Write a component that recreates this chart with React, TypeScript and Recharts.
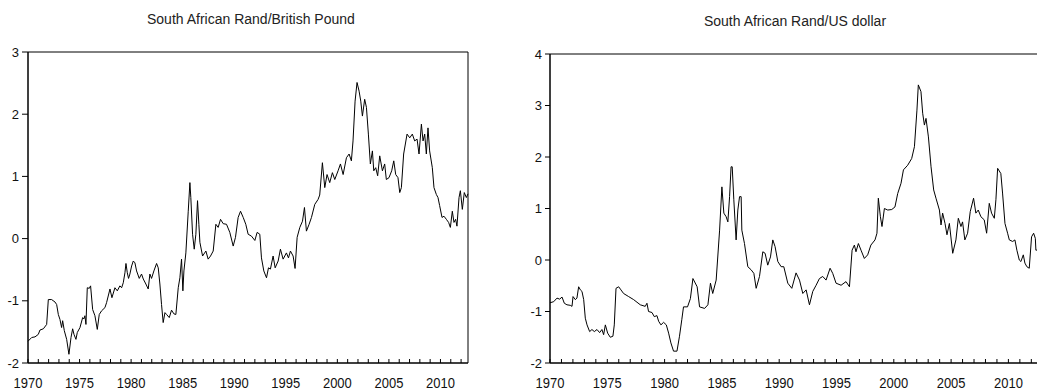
import React from 'react';
import { LineChart, Line, XAxis, YAxis, ReferenceArea } from 'recharts';

// Rand / British Pound (decimal year, value)
const gbpYears = [
  1970.0, 1970.36, 1970.68, 1971.0, 1971.16, 1971.49, 1971.81, 1971.97, 1972.29, 1972.62,
  1972.78, 1972.94, 1973.1, 1973.26, 1973.36, 1973.52, 1973.75, 1973.97, 1974.17, 1974.33,
  1974.46, 1974.65, 1974.78, 1975.04, 1975.3, 1975.43, 1975.52, 1975.62, 1975.75, 1975.94,
  1976.07, 1976.27, 1976.49, 1976.72, 1976.91, 1977.14, 1977.46, 1977.62, 1977.95, 1978.14,
  1978.43, 1978.66, 1978.91, 1979.08, 1979.24, 1979.4, 1979.5, 1979.63, 1979.75, 1979.88,
  1980.05, 1980.21, 1980.37, 1980.53, 1980.79, 1981.01, 1981.18, 1981.43, 1981.66, 1981.82,
  1981.98, 1982.21, 1982.47, 1982.63, 1982.79, 1982.95, 1983.11, 1983.28, 1983.44, 1983.7,
  1983.92, 1984.15, 1984.34, 1984.57, 1984.73, 1984.89, 1985.02, 1985.12, 1985.31, 1985.54,
  1985.7, 1985.79, 1985.96, 1986.12, 1986.28, 1986.44, 1986.57, 1986.67, 1986.93, 1987.25,
  1987.47, 1987.7, 1987.96, 1988.22, 1988.44, 1988.67, 1988.93, 1989.25, 1989.57, 1989.9,
  1990.12, 1990.38, 1990.61, 1990.87, 1991.12, 1991.35, 1991.67, 1992.0, 1992.22, 1992.48,
  1992.64, 1992.87, 1993.13, 1993.32, 1993.51, 1993.77, 1993.97, 1994.26, 1994.48, 1994.74,
  1995.06, 1995.26, 1995.45, 1995.71, 1995.9, 1996.1, 1996.36, 1996.62, 1996.81, 1997.0,
  1997.26, 1997.49, 1997.81, 1998.13, 1998.29, 1998.55, 1998.78, 1999.0, 1999.26, 1999.52,
  1999.75, 2000.07, 2000.3, 2000.56, 2000.88, 2001.14, 2001.36, 2001.52, 2001.72, 2001.91,
  2002.11, 2002.27, 2002.43, 2002.65, 2002.82, 2003.01, 2003.2, 2003.4, 2003.53, 2003.72,
  2003.91, 2004.11, 2004.37, 2004.59, 2004.75, 2005.01, 2005.27, 2005.47, 2005.66, 2005.88,
  2006.05, 2006.21, 2006.43, 2006.76, 2007.02, 2007.27, 2007.5, 2007.73, 2007.92, 2008.15,
  2008.31, 2008.47, 2008.63, 2008.79, 2008.95, 2009.21, 2009.37, 2009.6, 2009.76, 2009.92,
  2010.15, 2010.34, 2010.57, 2010.79, 2010.96, 2011.15, 2011.31, 2011.47, 2011.6, 2011.8,
  2011.93, 2012.12, 2012.31, 2012.51, 2012.67,
];
const gbpValues = [
  -1.65, -1.59, -1.58, -1.54, -1.47, -1.45, -1.38, -0.98, -0.98, -1.02,
  -1.06, -1.22, -1.3, -1.43, -1.32, -1.48, -1.62, -1.86, -1.59, -1.45,
  -1.54, -1.62, -1.51, -1.43, -1.27, -1.29, -1.24, -1.38, -0.79, -0.8,
  -0.76, -1.14, -1.24, -1.46, -1.22, -1.16, -1.11, -1.03, -0.81, -0.95,
  -0.79, -0.84, -0.76, -0.79, -0.71, -0.55, -0.4, -0.55, -0.64, -0.57,
  -0.44, -0.36, -0.39, -0.52, -0.64, -0.57, -0.65, -0.73, -0.81, -0.57,
  -0.64, -0.52, -0.4, -0.47, -0.73, -1.06, -1.35, -1.19, -1.22, -1.27,
  -1.15, -1.21, -1.22, -0.79, -0.63, -0.33, -0.84, -0.52, -0.23, 0.44,
  0.9, 0.66, 0.07, -0.17, 0.07, 0.61, 0.23, -0.06, -0.28, -0.2,
  -0.33, -0.28, -0.2, 0.23, 0.18, 0.31, 0.24, 0.23, 0.1, -0.12,
  0.02, 0.34, 0.44, 0.34, 0.23, 0.07, 0.04, -0.03, 0.1, 0.07,
  -0.31, -0.52, -0.63, -0.47, -0.49, -0.28, -0.47, -0.36, -0.17, -0.33,
  -0.23, -0.31, -0.2, -0.28, -0.48, 0.02, 0.18, 0.28, 0.5, 0.12,
  0.23, 0.34, 0.55, 0.63, 0.7, 1.22, 0.82, 1.03, 0.9, 1.06,
  0.95, 1.09, 1.2, 1.03, 1.3, 1.36, 1.25, 1.57, 2.21, 2.51,
  2.37, 2.21, 1.97, 2.24, 2.11, 1.68, 1.2, 1.41, 1.09, 1.14,
  1.01, 1.33, 1.09, 1.2, 0.95, 0.98, 1.09, 1.25, 1.03, 0.98,
  0.74, 0.82, 1.36, 1.68, 1.62, 1.68, 1.57, 1.6, 1.36, 1.84,
  1.57, 1.68, 1.36, 1.78, 1.41, 1.14, 0.82, 0.71, 0.66, 0.53,
  0.34, 0.36, 0.31, 0.26, 0.18, 0.44, 0.26, 0.31, 0.2, 0.66,
  0.77, 0.47, 0.74, 0.66, 0.72,
];

// Rand / US dollar (decimal year, value)
const usdYears = [
  1970.0, 1970.32, 1970.61, 1970.84, 1971.05, 1971.25, 1971.48, 1971.77, 1971.92, 1972.01,
  1972.21, 1972.35, 1972.5, 1972.65, 1972.79, 1972.94, 1973.08, 1973.23, 1973.46, 1973.66,
  1973.87, 1974.1, 1974.33, 1974.53, 1974.68, 1974.83, 1975.03, 1975.26, 1975.49, 1975.61,
  1975.76, 1975.99, 1976.19, 1976.42, 1976.86, 1977.3, 1977.88, 1978.31, 1978.46, 1978.6,
  1978.9, 1979.1, 1979.33, 1979.48, 1979.68, 1979.91, 1980.15, 1980.35, 1980.55, 1980.78,
  1981.08, 1981.3, 1981.5, 1981.65, 1982.0, 1982.25, 1982.47, 1982.84, 1983.05, 1983.49,
  1983.78, 1984.0, 1984.2, 1984.5, 1984.8, 1985.0, 1985.17, 1985.37, 1985.52, 1985.67,
  1985.8, 1985.9, 1986.04, 1986.24, 1986.39, 1986.54, 1986.68, 1986.74, 1986.97, 1987.26,
  1987.55, 1987.79, 1987.99, 1988.28, 1988.57, 1988.77, 1989.0, 1989.24, 1989.44, 1989.64,
  1989.88, 1990.17, 1990.4, 1990.75, 1991.1, 1991.47, 1991.77, 1992.06, 1992.35, 1992.64,
  1992.93, 1993.22, 1993.51, 1993.8, 1994.09, 1994.44, 1994.67, 1994.96, 1995.4, 1995.83,
  1996.13, 1996.36, 1996.56, 1996.7, 1996.91, 1997.14, 1997.43, 1997.72, 1998.0, 1998.36,
  1998.53, 1998.65, 1998.83, 1998.97, 1999.18, 1999.47, 1999.82, 2000.1, 2000.34, 2000.63,
  2000.84, 2001.21, 2001.56, 2001.8, 2002.02, 2002.14, 2002.37, 2002.52, 2002.67, 2002.81,
  2003.02, 2003.25, 2003.48, 2003.68, 2003.98, 2004.12, 2004.26, 2004.47, 2004.64, 2004.85,
  2005.14, 2005.42, 2005.63, 2005.86, 2006.0, 2006.2, 2006.44, 2006.67, 2006.96, 2007.16,
  2007.37, 2007.6, 2007.89, 2008.1, 2008.33, 2008.53, 2008.77, 2008.91, 2009.06, 2009.34,
  2009.49, 2009.7, 2009.93, 2010.08, 2010.37, 2010.57, 2010.74, 2010.95, 2011.09, 2011.3,
  2011.44, 2011.61, 2011.82, 2012.02, 2012.2, 2012.35, 2012.4, 2012.67,
];
const usdValues = [
  -0.83, -0.81, -0.74, -0.76, -0.72, -0.84, -0.87, -0.88, -0.9, -0.71,
  -0.77, -0.74, -0.52, -0.58, -0.61, -0.77, -1.13, -1.26, -1.39, -1.35,
  -1.39, -1.35, -1.41, -1.35, -1.45, -1.26, -1.42, -1.5, -1.48, -1.26,
  -0.55, -0.52, -0.58, -0.65, -0.71, -0.77, -0.87, -0.9, -0.84, -1.0,
  -1.02, -1.1, -1.08, -1.19, -1.26, -1.21, -1.26, -1.42, -1.61, -1.77,
  -1.77, -1.48, -1.16, -0.91, -0.91, -0.75, -0.36, -0.52, -0.91, -0.94,
  -0.87, -0.45, -0.65, -0.39, 0.58, 1.42, 0.91, 0.84, 0.74, 1.23,
  1.81, 1.81, 1.17, 0.39, 0.97, 1.23, 1.23, 0.58, 0.32, -0.13,
  -0.19, -0.26, -0.55, -0.32, 0.16, 0.13, -0.1, 0.06, 0.39, 0.26,
  -0.03, -0.13, -0.13, -0.45, -0.55, -0.25, -0.39, -0.65, -0.58, -0.87,
  -0.61, -0.49, -0.36, -0.32, -0.39, -0.16, -0.26, -0.45, -0.49, -0.42,
  -0.52, 0.19, 0.29, 0.16, 0.32, 0.19, 0.03, 0.1, 0.29, 0.39,
  0.52, 1.2, 0.84, 0.65, 1.0, 0.97, 0.98, 1.03, 1.29, 1.49,
  1.75, 1.84, 1.97, 2.2, 2.91, 3.4, 3.27, 2.85, 2.62, 2.75,
  2.39, 1.81, 1.36, 1.2, 0.97, 0.68, 0.91, 0.71, 0.49, 0.71,
  0.13, 0.39, 0.81, 0.65, 0.74, 0.39, 0.52, 0.94, 1.2, 0.91,
  0.97, 0.84, 0.78, 0.52, 1.1, 0.91, 0.81, 1.17, 1.78, 1.68,
  1.3, 0.71, 0.52, 0.39, 0.36, 0.39, 0.19, 0.0, -0.03, 0.1,
  -0.06, -0.13, -0.16, 0.45, 0.52, 0.42, 0.19, 0.2,
];

const yearTicks = Array.from({ length: 43 }, (_, i) => 1970 + i);
const gbpYTicks = [-2, -1, 0, 1, 2, 3];
const usdYTicks = [-2, -1, 0, 1, 2, 3, 4];
const X_END = 2012.67;

const gbpData = gbpYears.map((t, i) => ({ t, v: gbpValues[i] }));
const usdData = usdYears.map((t, i) => ({ t, v: usdValues[i] }));

const FONT = '"Liberation Sans", Arial, sans-serif';

// year ticks point up into the plot, labels only every 5 years
const YearTick = (props: any) => {
  const { x, y, payload } = props;
  const yr = payload.value;
  return (
    <g>
      <line x1={x} y1={y} x2={x} y2={y - 4} stroke="#000" />
      {yr % 5 === 0 && (
        <text
          transform={`translate(${x},${y + 25}) scale(1,1.12)`}
          textAnchor="middle"
          fontSize={13}
          fontFamily={FONT}
          fill="#111"
        >
          {yr}
        </text>
      )}
    </g>
  );
};

const Panel = ({ data, yTicks, yDomain, width, yAxisWidth, top, right, tickSize }: any) => (
  <LineChart width={width} height={392} data={data} margin={{ top, right, bottom: 0, left: 0 }}>
    <XAxis
      dataKey="t"
      type="number"
      domain={[1970, X_END]}
      ticks={yearTicks}
      interval={0}
      height={29}
      tickSize={0}
      tickMargin={0}
      tickLine={false}
      axisLine={{ stroke: '#000' }}
      tick={<YearTick />}
    />
    <YAxis
      type="number"
      domain={yDomain}
      ticks={yTicks}
      interval={0}
      width={yAxisWidth}
      tickSize={tickSize}
      tickMargin={3}
      axisLine={{ stroke: '#000' }}
      tickLine={{ stroke: '#000' }}
      tick={{ fontSize: 13, fill: '#111', fontFamily: FONT }}
    />
    <ReferenceArea
      x1={1970}
      x2={X_END}
      y1={yDomain[0]}
      y2={yDomain[1]}
      stroke="#000"
      strokeWidth={1}
      fill="none"
      fillOpacity={0}
      ifOverflow="visible"
    />
    <Line type="linear" dataKey="v" stroke="#000" strokeWidth={1} dot={false} isAnimationActive={false} />
  </LineChart>
);

const titleStyle: React.CSSProperties = {
  position: 'absolute',
  fontFamily: FONT,
  fontSize: 14,
  lineHeight: '14px',
  color: '#222',
  textAlign: 'center',
  whiteSpace: 'nowrap',
};

export default function App() {
  return (
    <div style={{ position: 'fixed', left: 0, top: 0, width: 1037, height: 392, overflow: 'hidden', background: '#fff' }}>
      <div style={{ ...titleStyle, left: 147, width: 200, top: 12 }}>South African Rand/British Pound</div>
      <div style={{ ...titleStyle, left: 695, width: 200, top: 14 }}>South African Rand/US dollar</div>
      <div style={{ position: 'absolute', left: 0, top: 0 }}>
        <Panel data={gbpData} yTicks={gbpYTicks} yDomain={[-2, 3]} width={480} yAxisWidth={28} top={52} right={12} tickSize={6} />
      </div>
      <div style={{ position: 'absolute', left: 517, top: 0 }}>
        <Panel data={usdData} yTicks={usdYTicks} yDomain={[-2, 4]} width={540} yAxisWidth={33} top={54} right={18} tickSize={5} />
      </div>
    </div>
  );
}
